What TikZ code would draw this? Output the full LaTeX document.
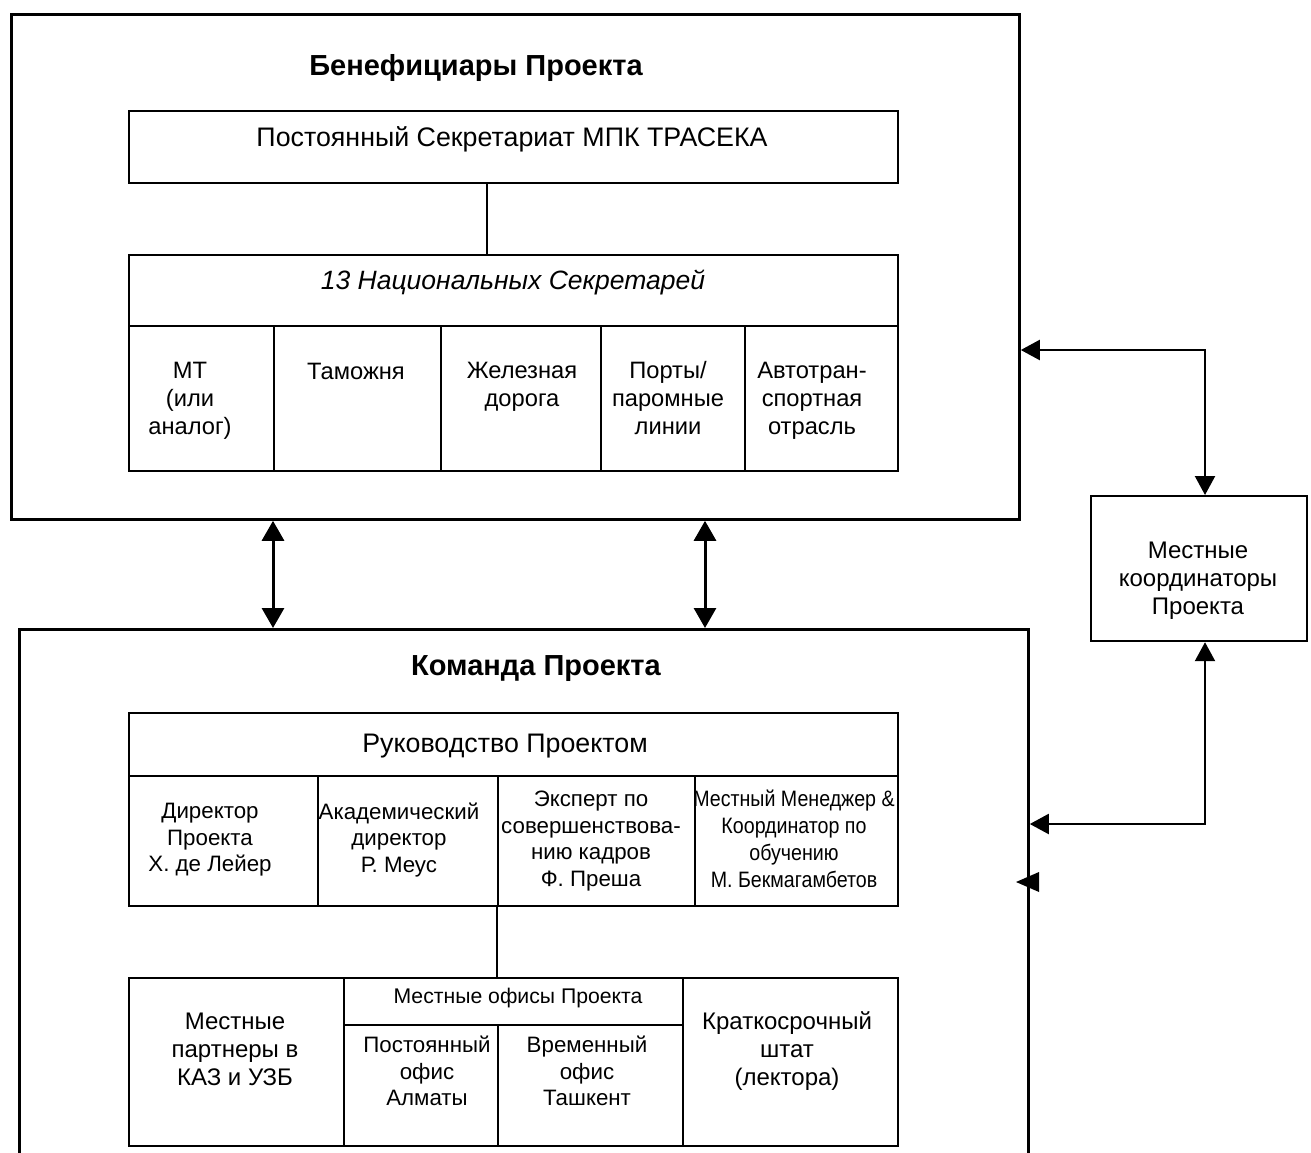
\documentclass[tikz,border=0pt]{standalone}
\usepackage{fontspec}
\setmainfont{Liberation Sans}
\newfontfamily\condfont[FakeStretch=0.88]{Liberation Sans}
\usetikzlibrary{arrows.meta}
\newcommand\fsz[2]{\fontsize{#1}{#2}\selectfont}
\begin{document}
\begin{tikzpicture}[x=1pt,y=-1pt,
  outerbox/.style={draw, line width=2.8pt, inner sep=0, anchor=north west},
  cell/.style={draw, line width=2.2pt, inner sep=0, anchor=north west},
  title/.style={font=\bfseries\fsz{29}{34}, inner sep=0},
  big/.style={font=\fsz{26.8}{32}, inner sep=0},
  bigit/.style={font=\itshape\fsz{26.5}{32}, inner sep=0},
  txt/.style={font=\fsz{23.7}{28}, align=center, inner sep=0},
  txtb/.style={font=\fsz{24}{28}, align=center, inner sep=0},
  sm/.style={font=\fsz{22.3}{26.5}, align=center, inner sep=0},
  smaller/.style={font=\fsz{21.2}{25}, align=center, inner sep=0},
  cnd/.style={font=\condfont\fsz{22.3}{27}, align=center, inner sep=0},
  link/.style={line width=2.2pt},
  dbl/.style={line width=3pt, {Triangle[length=20pt,width=22pt]}-{Triangle[length=20pt,width=22pt]}},
  biarr/.style={line width=2.2pt, {Triangle[length=19pt,width=20pt]}-{Triangle[length=19pt,width=20pt]}},
]
\fill[white] (0,0) rectangle (1311,1153);
\useasboundingbox (0,0) rectangle (1311,1153);
\clip (0,0) rectangle (1311,1153);

% ---------- Beneficiaries ----------
\node[outerbox, minimum width=1008pt, minimum height=505pt] (benef) at (10,13) {};
\node[title] (t1) at (476,68) {Бенефициары Проекта};
\node[cell, minimum width=769pt, minimum height=72pt] (psk) at (128,110) {};
\node[big] (pskt) at (512,139) {Постоянный Секретариат МПК ТРАСЕКА};
\node[cell, minimum width=769pt, minimum height=71pt] (nshead) at (128,254) {};
\node[bigit] (nst) at (513,282) {13 Национальных Секретарей};
\coordinate (j1) at (487,0);
\draw[link] (psk.south -| j1) -- (nshead.north -| j1);

\node[cell, minimum width=145pt, minimum height=145pt] (ns1) at (128,325) {};
\node[cell, minimum width=167pt, minimum height=145pt] (ns2) at (273,325) {};
\node[cell, minimum width=160pt, minimum height=145pt] (ns3) at (440,325) {};
\node[cell, minimum width=144pt, minimum height=145pt] (ns4) at (600,325) {};
\node[cell, minimum width=153pt, minimum height=145pt] (ns5) at (744,325) {};
\node[txt] (ns1t) at (190,401) {МТ\\(или\\аналог)};
\node[txt] (ns2t) at (356,371) {Таможня};
\node[txt] (ns3t) at (522,387) {Железная\\дорога};
\node[txt] (ns4t) at (668,398) {Порты/\\паромные\\линии};
\node[txt] (ns5t) at (812,401) {Автотран-\\спортная\\отрасль};

% ---------- Team ----------
\node[outerbox, minimum width=1009pt, minimum height=560pt] (team) at (18,628) {};
\node[title] (t2) at (536,669) {Команда Проекта};
\node[cell, minimum width=769pt, minimum height=63pt] (mgmt) at (128,712) {};
\node[big] (mgmtt) at (505,746) {Руководство Проектом};
\node[cell, minimum width=189pt, minimum height=130pt] (m1) at (128,775) {};
\node[cell, minimum width=180pt, minimum height=130pt] (m2) at (317,775) {};
\node[cell, minimum width=197pt, minimum height=130pt] (m3) at (497,775) {};
\node[cell, minimum width=203pt, minimum height=130pt] (m4) at (694,775) {};
\node[sm] (m1t) at (210,840) {Директор\\Проекта\\Х. де Лейер};
\node[sm] (m2t) at (399,840) {Академический\\директор\\Р. Меус};
\node[sm] (m3t) at (591,841) {Эксперт по\\совершенствова-\\нию кадров\\Ф. Преша};
\node[cnd] (m4t) at (794,839) {Местный Менеджер \&\\Координатор по\\обучению\\М. Бекмагамбетов};

\node[cell, minimum width=215pt, minimum height=168pt] (b1) at (128,977) {};
\node[cell, minimum width=339pt, minimum height=47pt] (offh) at (343,977) {};
\node[cell, minimum width=154pt, minimum height=121pt] (b2) at (343,1024) {};
\node[cell, minimum width=185pt, minimum height=121pt] (b3) at (497,1024) {};
\node[cell, minimum width=215pt, minimum height=168pt] (b4) at (682,977) {};
\draw[link] (m3.south west) -- (m3.south west |- offh.north);
\node[txtb] (b1t) at (235,1049) {Местные\\партнеры в\\КАЗ и УЗБ};
\node[smaller] (offt) at (518,998) {Местные офисы Проекта};
\node[sm] (b2t) at (427,1071) {Постоянный\\офис\\Алматы};
\node[sm] (b3t) at (587,1071) {Временный\\офис\\Ташкент};
\node[txtb] (b4t) at (787,1051) {Краткосрочный\\штат\\(лектора)};

% ---------- Coordinators ----------
\node[cell, minimum width=216pt, minimum height=145pt] (coord) at (1090,495) {};
\node[txtb] (coordt) at (1198,581) {Местные\\координаторы\\Проекта};

% ---------- Arrows ----------
\coordinate (a1) at (273,0);
\coordinate (a2) at (705,0);
\draw[dbl] (benef.south -| a1) -- (team.north -| a1);
\draw[dbl] (benef.south -| a2) -- (team.north -| a2);
\coordinate (v) at (1205,0);
\coordinate (h1) at (0,350);
\coordinate (h2) at (0,824);
\draw[biarr] (benef.east |- h1) -- (v |- h1) -- (v |- coord.north);
\draw[biarr] (team.east |- h2) -- (v |- h2) -- (v |- coord.south);
\fill (1016,882) -- (1039,872) -- (1039,892) -- cycle;
\end{tikzpicture}
\end{document}
